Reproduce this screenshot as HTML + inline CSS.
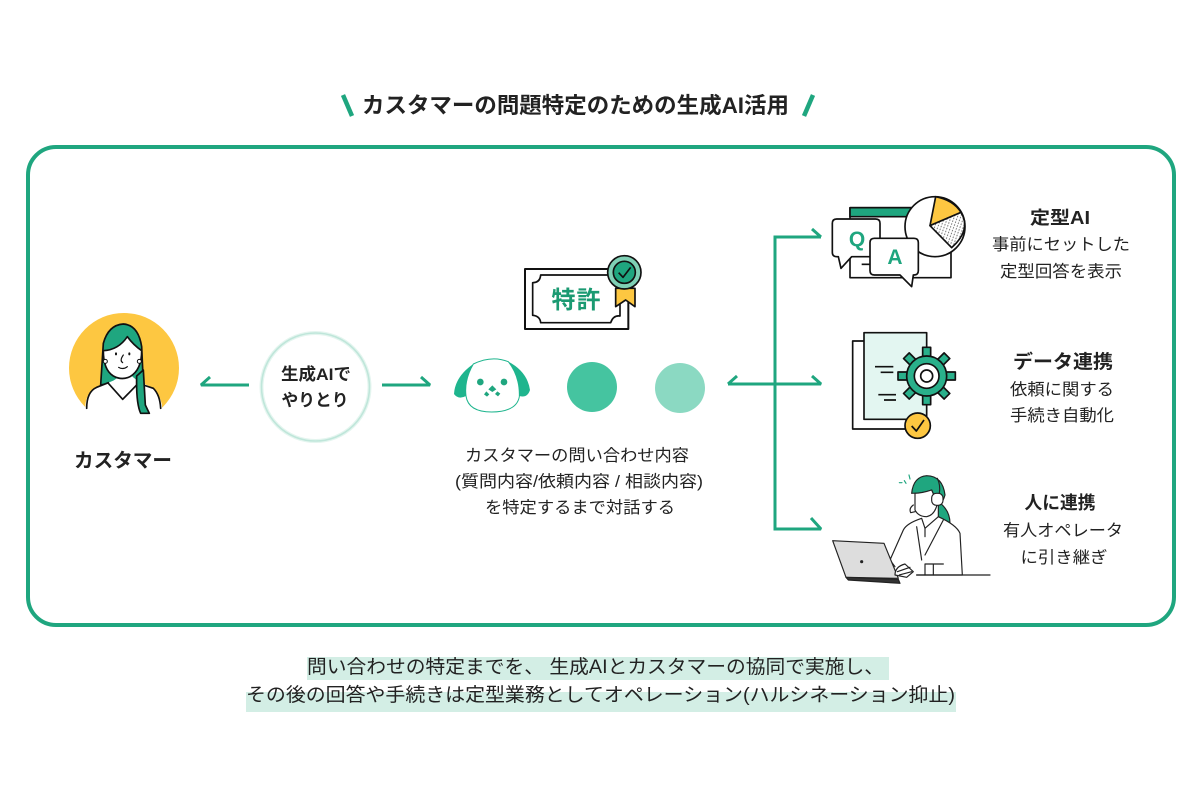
<!DOCTYPE html>
<html lang="ja"><head><meta charset="utf-8"><title>生成AI活用</title>
<style>
html,body{margin:0;padding:0;background:#fff;width:1200px;height:800px;overflow:hidden}
svg{display:block}
text{font-family:"Liberation Sans","Noto Sans CJK JP",sans-serif;fill:#222}
.b{font-weight:700}
.n{font-size:16.5px}
.c{text-anchor:middle}
</style></head><body>
<svg width="1200" height="800" viewBox="0 0 1200 800" xmlns="http://www.w3.org/2000/svg">
<defs>
<pattern id="h" width="9" height="9" patternUnits="userSpaceOnUse" patternTransform="rotate(20)">
<rect width="9" height="9" fill="#fff"/><rect x="3" y="1" width="2.5" height="4.5" fill="#555"/>
</pattern>
</defs>
<rect width="1200" height="800" fill="#fff"/>
<path d="M343 95L352 116" stroke="#1fa67f" stroke-width="4.5" fill="none"/>
<path d="M813 95L804 116" stroke="#1fa67f" stroke-width="4.5" fill="none"/>
<text class="b" x="362" y="113" font-size="22" textLength="427" lengthAdjust="spacingAndGlyphs">カスタマーの問題特定のための生成AI活用</text>
<rect x="28" y="147" width="1146" height="478" rx="28" fill="#fff" stroke="#1fa67f" stroke-width="4"/>

<!-- customer -->
<circle cx="124" cy="368" r="55" fill="#fdc741"/>
<g transform="translate(40,290) scale(.33333)" stroke="#111" stroke-width="5" stroke-linejoin="round" stroke-linecap="round">
<path d="M182 285L190 160Q205 105 250 102Q295 105 305 170L310 280H210Z" fill="#1fa67f"/>
<path d="M136 410V345Q140 305 170 292L220 272Q240 262 245 240H265Q275 265 300 275L340 295Q360 315 366 345V410Z" fill="#fff" stroke="none"/>
<path d="M140 355Q140 305 170 292L205 278M310 285L340 295Q360 315 362 355" fill="none"/>
<path d="M205 280L248 328L290 285" fill="none"/>
<path d="M190 182Q235 180 262 140Q280 165 305 182Q305 240 270 260Q245 272 220 258Q190 240 190 182Z" fill="#fff"/>
<path d="M290 258L310 240L316 345L328 370H302Q288 340 290 258Z" fill="#1fa67f"/>
<circle cx="196" cy="214" r="6" fill="#fff" stroke-width="3"/><circle cx="298" cy="214" r="6" fill="#fff" stroke-width="3"/>
<path d="M228 190v3M268 190v3" stroke-width="6"/><path d="M250 195Q238 212 248 218" fill="none" stroke-width="3.5"/><path d="M236 232Q250 240 262 230" fill="none" stroke-width="3.5"/>
</g>
<text class="b c" x="123" y="467" font-size="19.5" textLength="98" lengthAdjust="spacingAndGlyphs">カスタマー</text>

<!-- bubble -->
<circle cx="315.5" cy="387" r="54" fill="#fff" stroke="#e4f5ef" stroke-width="4"/>
<circle cx="315.5" cy="387" r="54" fill="none" stroke="#bfe6da" stroke-width="1.6"/>
<text class="b c" x="316" y="380" font-size="17" textLength="70" lengthAdjust="spacingAndGlyphs">生成AIで</text>
<text class="b c" x="315" y="406" font-size="17" textLength="67" lengthAdjust="spacingAndGlyphs">やりとり</text>

<!-- arrows -->
<g fill="none" stroke="#1fa67f" stroke-width="3" stroke-miterlimit="2">
<path d="M249 385H201L210 377"/>
<path d="M382 385H430L421 377"/>
<path d="M728 384H821L812 376"/>
<path d="M728 384L737 376"/>
<path d="M821 237H775V529H821L811 518"/>
<path d="M821 237L812 229"/>
</g>

<!-- patent -->
<g transform="translate(440,240) scale(.33333)" stroke-linejoin="round">
<rect x="255" y="87" width="310" height="180" fill="#fff" stroke="#111" stroke-width="6"/>
<path d="M302 105H520V125Q530 135 540 130V228Q520 225 512 248H302Q300 228 278 226V128Q300 128 302 105Z" fill="#fff" stroke="#111" stroke-width="5"/>
<path d="M527 145H585V200L557 180L527 200Z" fill="#fdc741" stroke="#111" stroke-width="5"/>
<circle cx="553" cy="97" r="50" fill="#7fd0b5" stroke="#111" stroke-width="5"/>
<circle cx="553" cy="97" r="33" fill="#1fa67f" stroke="#111" stroke-width="5"/>
<path d="M536 98L549 112L572 82" fill="none" stroke="#111" stroke-width="5"/>
</g>
<text class="b c" x="576" y="308" font-size="24" style="fill:#1b9a72" textLength="49">特許</text>

<!-- dog -->
<g transform="translate(440,240) scale(.33333)">
<path d="M100 372Q45 410 42 462Q55 480 78 468Q72 420 100 372Z" fill="#1fb58e"/>
<path d="M205 365Q262 395 270 450Q262 475 238 468Q240 410 205 365Z" fill="#1fb58e"/>
<path d="M100 372Q155 345 205 365Q240 410 238 470Q230 515 155 516Q85 516 78 468Q72 420 100 372Z" fill="#fff" stroke="#1fb58e" stroke-width="3"/>
<circle cx="121" cy="426" r="10" fill="#1fa67f"/><circle cx="192" cy="426" r="10" fill="#1fa67f"/>
<path d="M157 436l12 12-12 8-12-8zM139 454l9 9-7 7-9-7zM172 454l9 7-7 8-9-7z" fill="#1fa67f"/>
</g>
<circle cx="592" cy="387" r="25" fill="#45c4a0"/>
<circle cx="680" cy="388" r="25" fill="#8bd9c2"/>
<text class="n c" x="577" y="461" textLength="224" lengthAdjust="spacingAndGlyphs">カスタマーの問い合わせ内容</text>
<text class="n c" x="579" y="487" textLength="248" lengthAdjust="spacingAndGlyphs">(質問内容/依頼内容 / 相談内容)</text>
<text class="n c" x="580" y="513" textLength="190" lengthAdjust="spacingAndGlyphs">を特定するまで対話する</text>

<!-- QA -->
<g transform="translate(760,185) scale(.33333)" stroke="#111" stroke-width="5" stroke-linejoin="round">
<rect x="270" y="68" width="303" height="210" fill="#fff"/>
<rect x="270" y="68" width="190" height="27" fill="#1fa67f"/>
<path d="M305 238H340" fill="none"/>
<circle cx="525" cy="125" r="90" fill="#fff"/>
<path d="M510 122L527 35Q580 45 603 82Z" fill="#fdc741"/>
<path d="M510 122L603 82Q635 135 575 188Z" fill="url(#h)"/>
<path d="M217 115Q217 102 230 102H347Q360 102 360 115V202Q360 215 347 215H275L243 250L235 215H230Q217 215 217 202Z" fill="#fff"/>
<path d="M330 173Q330 160 343 160H462Q475 160 475 173V257Q475 270 462 270H460L455 305L420 270H343Q330 270 330 257Z" fill="#fff"/>
</g>
<text class="b c" x="857" y="246" font-size="21" style="fill:#1fa67f">Q</text>
<text class="b c" x="895" y="264" font-size="21" style="fill:#1fa67f">A</text>
<text class="b c" x="1060" y="224" font-size="18" textLength="60" lengthAdjust="spacingAndGlyphs">定型AI</text>
<text class="n c" x="1061" y="250" textLength="138" lengthAdjust="spacingAndGlyphs">事前にセットした</text>
<text class="n c" x="1061" y="277" textLength="122" lengthAdjust="spacingAndGlyphs">定型回答を表示</text>

<!-- gear -->
<g transform="translate(810,320) scale(.33333)" stroke="#111" stroke-width="5" stroke-linejoin="round">
<rect x="128" y="63" width="222" height="264" fill="#fff"/>
<rect x="162" y="38" width="188" height="260" fill="#e3f6f1"/>
<path d="M195 140H250M212 157H250M205 224H258M222 240H258" fill="none"/>
<g fill="#2ab08b">
<rect x="338" y="82" width="24" height="172"/>
<rect x="264" y="156" width="172" height="24"/>
<rect x="338" y="82" width="24" height="172" transform="rotate(45 350 168)"/>
<rect x="338" y="82" width="24" height="172" transform="rotate(-45 350 168)"/>
<circle cx="350" cy="168" r="60"/>
</g>
<circle cx="350" cy="168" r="37" fill="#fff"/>
<circle cx="350" cy="168" r="18" fill="#fff"/>
<circle cx="323" cy="317" r="38" fill="#fdc741"/>
<path d="M305 318L319 333L342 300" fill="none"/>
</g>
<text class="b c" x="1063" y="368" font-size="19" textLength="100" lengthAdjust="spacingAndGlyphs">データ連携</text>
<text class="n c" x="1062" y="395" textLength="104" lengthAdjust="spacingAndGlyphs">依頼に関する</text>
<text class="n c" x="1062" y="421" textLength="104" lengthAdjust="spacingAndGlyphs">手続き自動化</text>

<!-- operator -->
<g transform="translate(810,460) scale(.33333)" stroke="#222" stroke-width="3.5" stroke-linejoin="round" stroke-linecap="round">
<path d="M283 62l5 8M297 45l3 12M268 68l8 0" stroke="#1fa67f" fill="none"/>
<path d="M385 125Q420 150 420 190L385 170Z" fill="#1fa67f"/>
<path d="M305 100Q310 50 350 47Q398 48 405 105Q395 140 380 125L365 90Q335 100 305 100Z" fill="#1fa67f"/>
<path d="M315 100Q335 100 365 90L382 130Q375 165 350 170Q325 170 315 150Z" fill="#fff"/>
<rect x="365" y="100" width="34" height="36" rx="14" fill="#fff"/>
<path d="M382 55Q392 75 388 100" fill="none"/>
<path d="M310 135Q296 145 302 158L315 155" fill="none"/>
<path d="M240 300L280 210Q290 190 335 175L345 205L385 170Q440 195 450 220L457 345H320" fill="#fff"/>
<path d="M320 200L335 300M400 180L345 285M345 205L345 230M240 300L255 320M345 312V345M370 312V345M345 312H400" fill="none"/>
<path d="M320 345H540" fill="none"/>
<path d="M68 242L222 250L265 355L108 352Z" fill="#ddd"/>
<path d="M108 352L265 358L270 370L115 360Z" fill="#333"/>
<circle cx="155" cy="305" r="3" fill="#222"/>
<path d="M255 345Q255 320 285 312L310 335L290 352Z" fill="#fff"/>
<path d="M262 335L300 322M268 345L305 335" fill="none"/>
</g>
<text class="b c" x="1060" y="509" font-size="18" textLength="71" lengthAdjust="spacingAndGlyphs">人に連携</text>
<text class="n c" x="1063" y="536" textLength="120" lengthAdjust="spacingAndGlyphs">有人オペレータ</text>
<text class="n c" x="1064" y="563" textLength="87" lengthAdjust="spacingAndGlyphs">に引き継ぎ</text>

<!-- footer -->
<rect x="307" y="657" width="582" height="23" fill="#d3eee5"/>
<rect x="246" y="692" width="710" height="20" fill="#d3eee5"/>
<text x="307" y="673" font-size="19" textLength="577" lengthAdjust="spacingAndGlyphs">問い合わせの特定までを、 生成AIとカスタマーの協同で実施し、</text>
<text x="246" y="701" font-size="19" textLength="709" lengthAdjust="spacingAndGlyphs">その後の回答や手続きは定型業務としてオペレーション(ハルシネーション抑止)</text>
</svg>
</body></html>
